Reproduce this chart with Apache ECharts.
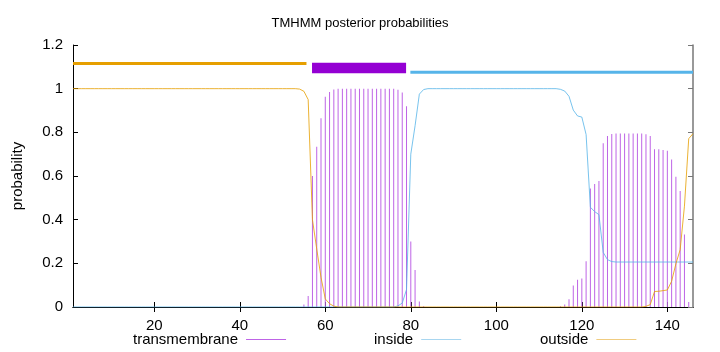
<!DOCTYPE html>
<html>
<head>
<meta charset="utf-8">
<script src="https://cdn.jsdelivr.net/npm/echarts@6/dist/echarts.min.js"></script>
<style>
  html, body { margin: 0; padding: 0; background: #fff; }
  #chart { width: 720px; height: 352px; }
</style>
</head>
<body>
<div id="chart"></div>
<script>
// posterior probabilities per residue (1..146)
const transmembrane = [
  0, 0, 0, 0, 0, 0, 0, 0, 0, 0,
  0, 0, 0, 0, 0, 0, 0, 0, 0, 0,
  0, 0, 0, 0, 0, 0, 0, 0, 0, 0,
  0, 0, 0, 0, 0, 0, 0, 0, 0, 0,
  0, 0, 0, 0, 0, 0, 0, 0, 0, 0,
  0, 0, 0, 0, 0.012, 0.05, 0.6, 0.734, 0.864, 0.963,
  0.985, 0.996, 1, 1, 1, 1, 1, 1, 1, 1,
  1, 1, 1, 1, 1, 1, 0.995, 0.982, 0.92, 0.3,
  0.17, 0.025, 0.004, 0, 0, 0, 0, 0, 0, 0,
  0, 0, 0, 0, 0, 0, 0, 0, 0, 0,
  0, 0, 0, 0, 0, 0, 0, 0, 0, 0,
  0, 0, 0, 0, 0.003, 0.011, 0.035, 0.098, 0.125, 0.13,
  0.21, 0.543, 0.563, 0.577, 0.75, 0.783, 0.792, 0.795, 0.795, 0.795,
  0.795, 0.795, 0.795, 0.795, 0.791, 0.783, 0.723, 0.722, 0.719, 0.716,
  0.676, 0.596, 0.531, 0.332, 0.023, 0
]
const inside = [
  0, 0, 0, 0, 0, 0, 0, 0, 0, 0,
  0, 0, 0, 0, 0, 0, 0, 0, 0, 0,
  0, 0, 0, 0, 0, 0, 0, 0, 0, 0,
  0, 0, 0, 0, 0, 0, 0, 0, 0, 0,
  0, 0, 0, 0, 0, 0, 0, 0, 0, 0,
  0, 0, 0, 0, 0, 0, 0, 0, 0, 0,
  0, 0, 0, 0, 0, 0, 0, 0, 0, 0,
  0, 0, 0, 0, 0, 0, 0.005, 0.018, 0.08, 0.7,
  0.83, 0.975, 0.996, 1, 1, 1, 1, 1, 1, 1,
  1, 1, 1, 1, 1, 1, 1, 1, 1, 1,
  1, 1, 1, 1, 1, 1, 1, 1, 1, 1,
  1, 1, 1, 1, 0.997, 0.989, 0.965, 0.902, 0.875, 0.87,
  0.79, 0.457, 0.437, 0.423, 0.25, 0.217, 0.208, 0.206, 0.206, 0.206,
  0.206, 0.206, 0.206, 0.206, 0.206, 0.206, 0.206, 0.206, 0.206, 0.206,
  0.206, 0.206, 0.206, 0.206, 0.206, 0.206
]
const outside = [
  1, 1, 1, 1, 1, 1, 1, 1, 1, 1,
  1, 1, 1, 1, 1, 1, 1, 1, 1, 1,
  1, 1, 1, 1, 1, 1, 1, 1, 1, 1,
  1, 1, 1, 1, 1, 1, 1, 1, 1, 1,
  1, 1, 1, 1, 1, 1, 1, 1, 1, 1,
  1, 1, 1, 0.998, 0.988, 0.95, 0.4, 0.266, 0.136, 0.037,
  0.015, 0.004, 0, 0, 0, 0, 0, 0, 0, 0,
  0, 0, 0, 0, 0, 0, 0, 0, 0, 0,
  0, 0, 0, 0, 0, 0, 0, 0, 0, 0,
  0, 0, 0, 0, 0, 0, 0, 0, 0, 0,
  0, 0, 0, 0, 0, 0, 0, 0, 0, 0,
  0, 0, 0, 0, 0, 0, 0, 0, 0, 0,
  0, 0, 0, 0, 0, 0, 0, 0, 0, 0,
  0, 0, 0, 0, 0.003, 0.011, 0.071, 0.072, 0.075, 0.078,
  0.118, 0.198, 0.263, 0.462, 0.771, 0.794
]

// predicted topology drawn above the curves: [start, end, level]
const outsideSeg = [1, 55.6, 1.115]
const helixSeg = [56.9, 78.9, 1.095]
const insideSeg = [79.9, 146, 1.075]

const xTicks = [20, 40, 60, 80, 100, 120, 140]

const toPairs = arr => arr.map((v, i) => [i + 1, v])
const segPairs = s => [[s[0], s[2]], [s[1], s[2]]]

const font = "'Liberation Sans', Arial, sans-serif"
const chart = echarts.init(document.getElementById('chart'))

const legendBase = {
  top: 332,
  padding: 0,
  icon: 'rect',
  itemWidth: 40,
  itemHeight: 1,
  align: 'right',
  selectedMode: false,
  textStyle: { fontFamily: font, fontSize: 15, color: '#000', padding: [0, 3, 0, 0] }
}

const option = {
  animation: false,
  title: {
    text: 'TMHMM posterior probabilities',
    left: 'center',
    top: 12,
    textStyle: { fontFamily: font, fontSize: 13, fontWeight: 'normal', color: '#000' }
  },
  legend: [
    { ...legendBase, left: 133, data: ['transmembrane'] },
    { ...legendBase, left: 374, data: ['inside'] },
    { ...legendBase, left: 540, data: ['outside'] }
  ],
  grid: { left: 73, right: 27, top: 45, bottom: 45 },
  xAxis: [
    {
      type: 'value',
      min: 1,
      max: 146,
      splitLine: { show: false },
      axisLine: { lineStyle: { color: '#000' } },
      axisTick: { inside: true, length: 5, customValues: xTicks, lineStyle: { color: '#000' } },
      axisLabel: { customValues: xTicks, margin: 11, fontFamily: font, fontSize: 15, color: '#000' }
    },
    {
      type: 'value',
      position: 'top',
      min: 1,
      max: 146,
      splitLine: { show: false },
      axisLine: { show: true, lineStyle: { color: '#000' } },
      axisTick: { inside: true, length: 5, customValues: xTicks, lineStyle: { color: '#000' } },
      axisLabel: { show: false }
    }
  ],
  yAxis: [
    {
      type: 'value',
      min: 0,
      max: 1.2,
      interval: 0.2,
      name: 'probability',
      nameLocation: 'middle',
      nameGap: 48,
      nameTextStyle: { fontFamily: font, fontSize: 15, color: '#000' },
      splitLine: { show: false },
      axisLine: { show: true, lineStyle: { color: '#000' } },
      axisTick: { show: true, inside: true, length: 5, lineStyle: { color: '#000' } },
      axisLabel: { margin: 10, fontFamily: font, fontSize: 15, color: '#000' }
    },
    {
      type: 'value',
      position: 'right',
      min: 0,
      max: 1.2,
      interval: 0.2,
      splitLine: { show: false },
      axisLine: { show: true, lineStyle: { color: '#777', width: 1.5 } },
      axisTick: { show: true, inside: true, length: 5, lineStyle: { color: '#777' } },
      axisLabel: { show: false }
    }
  ],
  series: [
    {
      name: 'transmembrane',
      type: 'bar',
      barWidth: 1,
      data: toPairs(transmembrane),
      itemStyle: { color: '#be64e6' },
      z: 2
    },
    {
      name: 'inside',
      type: 'line',
      symbol: 'none',
      data: toPairs(inside),
      lineStyle: { color: '#56b4e9', width: 1, opacity: 0.8 },
      itemStyle: { color: '#a8d6f0' },
      z: 3
    },
    {
      name: 'outside',
      type: 'line',
      symbol: 'none',
      data: toPairs(outside),
      lineStyle: { color: '#e69f00', width: 1, opacity: 0.8 },
      itemStyle: { color: '#f0cc80' },
      z: 3
    },
    {
      name: 'outsideTop',
      type: 'line',
      symbol: 'none',
      data: segPairs(outsideSeg),
      lineStyle: { color: '#e69f00', width: 3, cap: 'butt' },
      z: 4
    },
    {
      name: 'helixTop',
      type: 'line',
      symbol: 'none',
      data: segPairs(helixSeg),
      lineStyle: { color: '#9400d3', width: 10.5, cap: 'butt' },
      z: 4
    },
    {
      name: 'insideTop',
      type: 'line',
      symbol: 'none',
      data: segPairs(insideSeg),
      lineStyle: { color: '#56b4e9', width: 3, cap: 'butt' },
      z: 4
    }
  ]
}

chart.setOption(option)
</script>
</body>
</html>
